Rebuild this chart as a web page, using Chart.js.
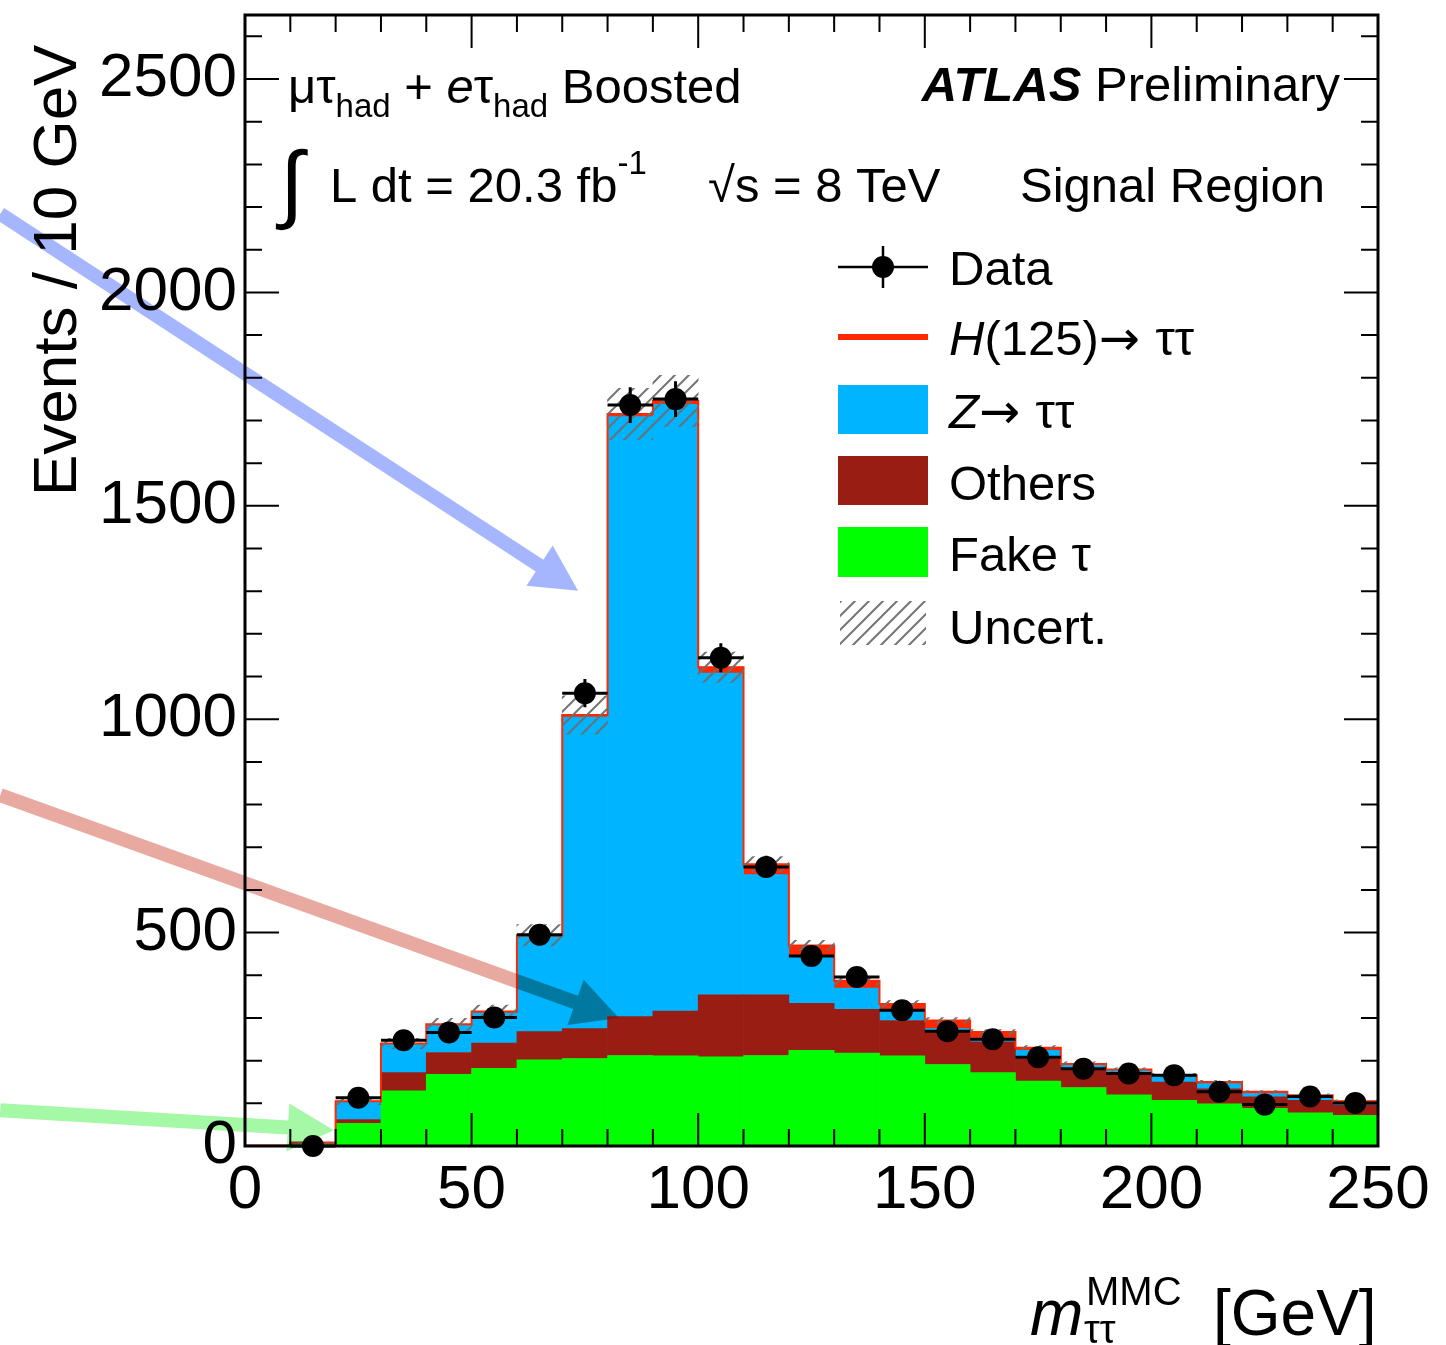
<!DOCTYPE html>
<html>
<head>
<meta charset="utf-8">
<script src="https://cdn.jsdelivr.net/npm/chart.js@4.4.1/dist/chart.umd.min.js"></script>
<style>
  html, body { margin: 0; padding: 0; background: #fff; }
  canvas { display: block; }
</style>
</head>
<body>
<canvas id="mmc-chart" width="1446" height="1345"></canvas>
<script>
// bins of 10 GeV, centres
const binCenters = [5, 15, 25, 35, 45, 55, 65, 75, 85, 95, 105, 115, 125, 135, 145, 155, 165, 175, 185, 195, 205, 215, 225, 235, 245];

// stacked backgrounds (events / bin), bottom to top
const fakeTau = [0, 4, 53, 129, 168, 182, 202, 205, 212, 211, 209, 212, 224, 218, 211, 191, 172, 152, 137, 120, 107, 99, 88, 78, 72];
const others  = [0, 1, 9, 43, 51, 59, 66, 70, 91, 105, 145, 142, 110, 102, 83, 76, 72, 52, 44, 50, 43, 35, 27, 29, 23];
const ztautau = [1, 3, 42, 66, 64, 71, 222, 730, 1406, 1422, 754, 282, 113, 50, 24, 8, 9, 20, 8, 7, 13, 12, 8, 8, 6];
const higgs   = [0, 0, 1, 2, 2, 3, 4, 5, 6, 8, 14, 24, 23, 17, 15, 19, 14, 6, 3, 2, 3, 4, 4, 4, 4];
const uncert  = [0, 1, 8, 12, 14, 15, 25, 45, 60, 60, 35, 18, 12, 10, 8, 7, 6, 5, 5, 4, 4, 4, 3, 3, 3];

// data points and their errors
const dataCounts = [null, 0, 113, 248, 266, 301, 495, 1061, 1736, 1750, 1144, 654, 445, 396, 318, 269, 250, 208, 181, 170, 166, 127, 97, 116, 101];
const dataErrors = [0, 0, 11, 16, 16, 17, 22, 33, 42, 42, 34, 26, 21, 20, 18, 16, 16, 14, 13, 13, 13, 11, 10, 11, 10];

const xTicks = [0, 50, 100, 150, 200, 250];
const yTicks = [0, 500, 1000, 1500, 2000, 2500];

const FONT = '"Liberation Sans", Arial, Helvetica, sans-serif';
const ARROWFONT = '"DejaVu Sans", sans-serif';
const colZ = "#00b4ff";
const colOthers = "#991d12";
const colFake = "#00ff00";
const colHiggs = "#ff2800";

const totals = binCenters.map((c, i) => fakeTau[i] + others[i] + ztautau[i] + higgs[i]);

// hatch pattern for the uncertainty band
function makeHatch() {
  const s = 14;
  const c = document.createElement("canvas");
  c.width = s; c.height = s;
  const g = c.getContext("2d");
  g.strokeStyle = "rgba(110,110,110,0.95)";
  g.lineWidth = 2;
  g.beginPath();
  g.moveTo(0, s); g.lineTo(s, 0);
  g.moveTo(-s / 2, s / 2); g.lineTo(s / 2, -s / 2);
  g.moveTo(s / 2, s * 1.5); g.lineTo(s * 1.5, s / 2);
  g.stroke();
  return document.getElementById("mmc-chart").getContext("2d").createPattern(c, "repeat");
}
const hatch = makeHatch();

// annotation arrows, in axis units (GeV, events)
const arrows = [
  { from: [-54, 2184], to: [73.5, 1301], color: "rgb(165,182,255)" },
  { from: [-54, 822], to: [82.5, 300], color: "rgb(232,170,160)" },
  { from: [-54, 84], to: [19.6, 37], color: "rgb(165,248,165)" }
];

function richText(ctx, x, y, parts) {
  parts.forEach(p => {
    ctx.font = p.font;
    ctx.fillText(p.t, x, y + (p.dy || 0));
    x += ctx.measureText(p.t).width + (p.dx || 0);
  });
  return x;
}
function textWidth(ctx, parts) {
  let w = 0;
  parts.forEach(p => { ctx.font = p.font; w += ctx.measureText(p.t).width; });
  return w;
}

const f49 = "49px " + FONT;
const f49i = "italic 49px " + FONT;
const f33 = "33px " + FONT;
const fArrow = "49px " + ARROWFONT;

const atlasPlugin = {
  id: "atlasDecor",
  afterDatasetsDraw(chart) {
    const { ctx, scales: { x, y } } = chart;
    ctx.save();
    ctx.strokeStyle = "#000";
    ctx.lineWidth = 3;
    dataCounts.forEach((v, i) => {
      if (v === null) return;
      const px = x.getPixelForValue(binCenters[i]);
      const py = y.getPixelForValue(v);
      ctx.beginPath();
      ctx.moveTo(x.getPixelForValue(binCenters[i] - 5), py);
      ctx.lineTo(x.getPixelForValue(binCenters[i] + 5), py);
      ctx.moveTo(px, y.getPixelForValue(v - dataErrors[i]));
      ctx.lineTo(px, y.getPixelForValue(v + dataErrors[i]));
      ctx.stroke();
    });
    ctx.restore();
  },
  afterDraw(chart) {
    const { ctx, chartArea: a, scales: { x, y } } = chart;
    ctx.save();

    // frame and inward ticks
    ctx.strokeStyle = "#000";
    ctx.lineWidth = 3;
    ctx.strokeRect(a.left, a.top, a.right - a.left, a.bottom - a.top);
    ctx.lineWidth = 2;
    ctx.beginPath();
    for (let v = 0; v <= 250; v += 10) {
      const px = x.getPixelForValue(v);
      const len = v % 50 === 0 ? 33 : 17;
      ctx.moveTo(px, a.bottom); ctx.lineTo(px, a.bottom - len);
      ctx.moveTo(px, a.top); ctx.lineTo(px, a.top + len);
    }
    for (let v = 0; v <= 2600; v += 100) {
      const py = y.getPixelForValue(v);
      const len = v % 500 === 0 ? 34 : 17;
      ctx.moveTo(a.left, py); ctx.lineTo(a.left + len, py);
      ctx.moveTo(a.right, py); ctx.lineTo(a.right - len, py);
    }
    ctx.stroke();

    // labels on the plot
    ctx.fillStyle = "#000";
    ctx.textBaseline = "alphabetic";
    ctx.textAlign = "left";
    richText(ctx, 288, 103, [
      { t: "μτ", font: f49 }, { t: "had", font: f33, dy: 14 }, { t: " + ", font: f49 },
      { t: "e", font: f49i }, { t: "τ", font: f49 }, { t: "had", font: f33, dy: 14 },
      { t: " Boosted", font: f49 }
    ]);
    const atlas = [{ t: "ATLAS", font: "italic bold 49px " + FONT }, { t: " Preliminary", font: f49 }];
    richText(ctx, 1340 - textWidth(ctx, atlas), 101, atlas);

    ctx.font = "86px " + FONT;
    ctx.fillText("∫", 280, 212);
    richText(ctx, 330, 202, [{ t: "L dt = 20.3 fb", font: f49 }, { t: "-1", font: f33, dy: -28 }]);
    richText(ctx, 708, 202, [{ t: "√s = 8 TeV", font: f49 }]);
    richText(ctx, 1020, 202, [{ t: "Signal Region", font: f49 }]);

    // legend
    ctx.lineWidth = 2.5;
    ctx.beginPath();
    ctx.moveTo(838, 267); ctx.lineTo(928, 267);
    ctx.moveTo(883, 246); ctx.lineTo(883, 288);
    ctx.stroke();
    ctx.beginPath(); ctx.arc(883, 267, 11, 0, Math.PI * 2); ctx.fill();
    ctx.fillStyle = colHiggs; ctx.fillRect(838, 334, 90, 6);
    ctx.fillStyle = colZ; ctx.fillRect(838, 385, 90, 49);
    ctx.fillStyle = colOthers; ctx.fillRect(838, 456, 90, 49);
    ctx.fillStyle = colFake; ctx.fillRect(838, 527, 90, 50);
    ctx.fillStyle = hatch; ctx.fillRect(840, 601, 86, 44);
    ctx.fillStyle = "#000";
    richText(ctx, 949, 285, [{ t: "Data", font: f49 }]);
    richText(ctx, 949, 355, [{ t: "H", font: f49i }, { t: "(125)", font: f49 }, { t: "→ ", font: fArrow }, { t: "ττ", font: f49 }]);
    richText(ctx, 949, 428, [{ t: "Z", font: f49i }, { t: "→ ", font: fArrow }, { t: "ττ", font: f49 }]);
    richText(ctx, 949, 500, [{ t: "Others", font: f49 }]);
    richText(ctx, 949, 571, [{ t: "Fake τ", font: f49 }]);
    richText(ctx, 949, 644, [{ t: "Uncert.", font: f49 }]);

    // axis titles
    ctx.font = "italic 64px " + FONT;
    ctx.fillText("m", 1030, 1335);
    ctx.font = "40px " + FONT;
    ctx.fillText("ττ", 1084, 1343);
    ctx.fillText("MMC", 1086, 1305);
    ctx.font = "64px " + FONT;
    ctx.fillText("[GeV]", 1213, 1335);

    ctx.save();
    ctx.translate(76, 496);
    ctx.rotate(-Math.PI / 2);
    ctx.font = "62px " + FONT;
    ctx.fillText("Events / 10 GeV", 0, 0);
    ctx.restore();

    // annotation arrows
    ctx.globalCompositeOperation = "multiply";
    arrows.forEach(ar => {
      const x0 = x.getPixelForValue(ar.from[0]), y0 = y.getPixelForValue(ar.from[1]);
      const x1 = x.getPixelForValue(ar.to[0]), y1 = y.getPixelForValue(ar.to[1]);
      const len = Math.hypot(x1 - x0, y1 - y0);
      const ux = (x1 - x0) / len, uy = (y1 - y0) / len;
      const nx = -uy, ny = ux;
      const headL = 46, headW = 24, shaftW = 7;
      const bx = x1 - ux * headL, by = y1 - uy * headL;
      ctx.fillStyle = ar.color;
      ctx.beginPath();
      ctx.moveTo(x0 + nx * shaftW, y0 + ny * shaftW);
      ctx.lineTo(bx + nx * shaftW, by + ny * shaftW);
      ctx.lineTo(bx + nx * headW, by + ny * headW);
      ctx.lineTo(x1, y1);
      ctx.lineTo(bx - nx * headW, by - ny * headW);
      ctx.lineTo(bx - nx * shaftW, by - ny * shaftW);
      ctx.lineTo(x0 - nx * shaftW, y0 - ny * shaftW);
      ctx.closePath();
      ctx.fill();
    });
    ctx.restore();
  }
};

const toXY = arr => binCenters.map((c, i) => ({ x: c, y: arr[i] }));

const outline = binCenters.map((c, i) => ({ x: c - 5, y: totals[i] }));
outline.push({ x: 250, y: totals[totals.length - 1] });

const barCommon = { type: "bar", stack: "mc", order: 3, barPercentage: 1, categoryPercentage: 1, borderWidth: 0 };

const config = {
  type: "bar",
  data: {
    datasets: [
      {
        type: "scatter",
        label: "Data",
        data: binCenters.map((c, i) => ({ x: c, y: dataCounts[i] })).filter(p => p.y !== null),
        backgroundColor: "#000",
        borderWidth: 0,
        pointRadius: 11,
        clip: false,
        order: 0
      },
      {
        type: "bar",
        label: "Uncert.",
        stack: "unc",
        grouped: false,
        data: binCenters.map((c, i) => ({ x: c, y: [totals[i] - uncert[i], totals[i] + uncert[i]] })),
        backgroundColor: hatch,
        borderWidth: 0,
        barPercentage: 1,
        categoryPercentage: 1,
        order: 1
      },
      {
        type: "line",
        label: "outline",
        data: outline,
        stepped: true,
        borderColor: colHiggs,
        borderWidth: 2,
        pointRadius: 0,
        fill: false,
        order: 2
      },
      { ...barCommon, label: "Fake τ", data: toXY(fakeTau), backgroundColor: colFake },
      { ...barCommon, label: "Others", data: toXY(others), backgroundColor: colOthers },
      { ...barCommon, label: "Z→ττ", data: toXY(ztautau), backgroundColor: colZ },
      { ...barCommon, label: "H(125)→ττ", data: toXY(higgs), backgroundColor: colHiggs }
    ]
  },
  options: {
    responsive: false,
    animation: false,
    devicePixelRatio: 1,
    layout: { padding: { top: 15, right: 68, left: 0, bottom: 0 } },
    plugins: { legend: { display: false }, tooltip: { enabled: false } },
    scales: {
      x: {
        type: "linear",
        min: 0,
        max: 250,
        offset: false,
        stacked: true,
        grid: { display: false, offset: false, drawTicks: false },
        border: { display: false },
        afterBuildTicks: s => { s.ticks = xTicks.map(v => ({ value: v })); },
        ticks: {
          color: "#000",
          font: { family: FONT, size: 62 },
          padding: 8,
          autoSkip: false,
          maxRotation: 0,
          callback: v => String(v)
        },
        afterFit: s => { s.height = 199; s.paddingLeft = 0; s.paddingRight = 0; }
      },
      y: {
        type: "linear",
        min: 0,
        max: 2650,
        stacked: true,
        grid: { display: false, drawTicks: false },
        border: { display: false },
        afterBuildTicks: s => { s.ticks = yTicks.map(v => ({ value: v })); },
        ticks: {
          color: "#000",
          font: { family: FONT, size: 62 },
          padding: 8,
          callback: v => String(v)
        },
        afterFit: s => { s.width = 245; s.paddingTop = 0; s.paddingBottom = 0; }
      }
    }
  },
  plugins: [atlasPlugin]
};

const ctx = document.getElementById("mmc-chart").getContext("2d");
const mmcChart = new Chart(ctx, config);
</script>
</body>
</html>
